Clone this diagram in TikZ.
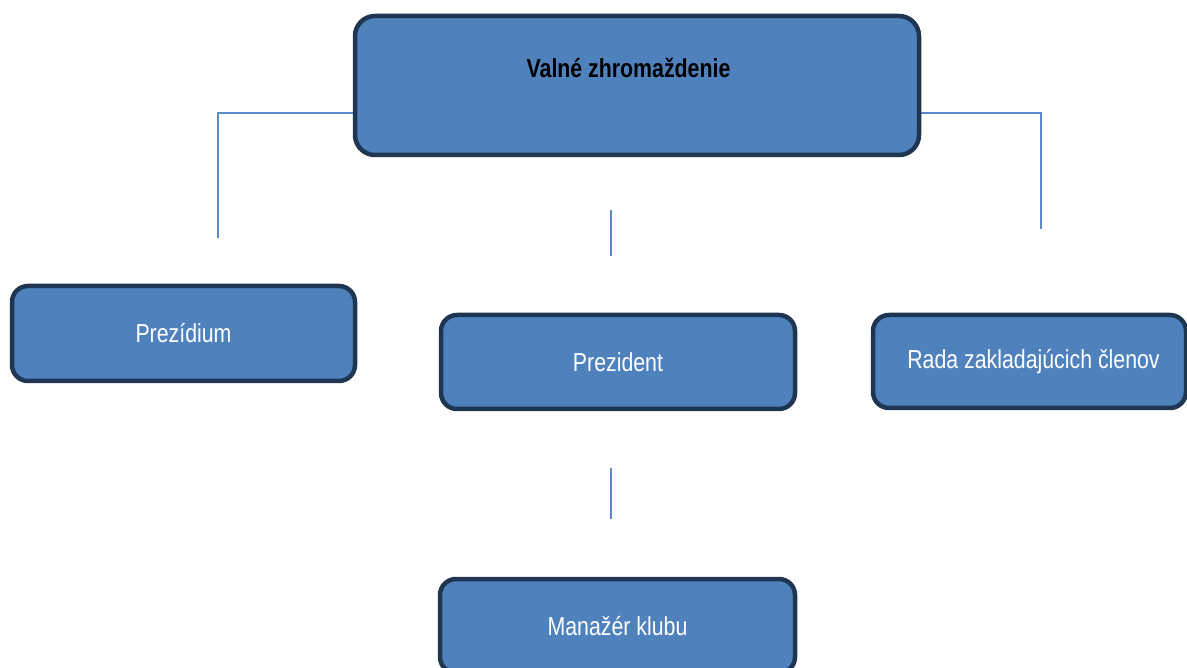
\documentclass[tikz,border=0pt]{standalone}
\usepackage{fontspec}
\setmainfont{Liberation Sans}[FakeStretch=0.82]
\usetikzlibrary{backgrounds}
\definecolor{boxfill}{HTML}{4F81BD}
\definecolor{boxline}{HTML}{1F3652}
\definecolor{connline}{HTML}{5B8BC9}
\tikzset{
  orgbox/.style={draw=boxline, fill=boxfill, line width=4.5pt, rounded corners=16pt,
    text=white, inner sep=0pt, font=\fontsize{26}{30}\selectfont},
  conn/.style={draw=connline, line width=1.6pt},
}
\begin{document}
\begin{tikzpicture}[x=1pt,y=-1pt]
\useasboundingbox (0,0) rectangle (1187,668);
\node[orgbox, rounded corners=20pt, minimum width=564pt, minimum height=139pt] (top) at (637,85.5) {};
\node[font=\fontsize{26}{30}\selectfont\bfseries, text=black, inner sep=0pt] (toplabel) at (628.5,68) {Valné zhromaždenie};
\node[orgbox, minimum width=343pt, minimum height=95pt] (prez) at (183.5,333.5) {Prezídium};
\node[orgbox, minimum width=354pt, minimum height=94pt] (pres) at (618,362) {Prezident};
\node[orgbox, minimum width=313pt, minimum height=93pt] (rada) at (1029.5,361.5) {\hspace*{8pt}Rada zakladajúcich členov};
\node[orgbox, minimum width=355pt, minimum height=94pt] (man) at (617.5,626) {Manažér klubu};
\coordinate (lend) at (218,238);
\coordinate (rend) at (1041,229);
\coordinate (m1) at (611,210);
\coordinate (m2) at (611,256);
\coordinate (b1) at (611,468);
\coordinate (b2) at (611,519);
\begin{scope}[on background layer]
\draw[conn] ([yshift=-27.5pt]top.west) -| (lend);
\draw[conn] ([yshift=-27.5pt]top.east) -| (rend);
\end{scope}
\draw[conn] (m1) -- (m2);
\draw[conn] (b1) -- (b2);
\end{tikzpicture}
\end{document}
